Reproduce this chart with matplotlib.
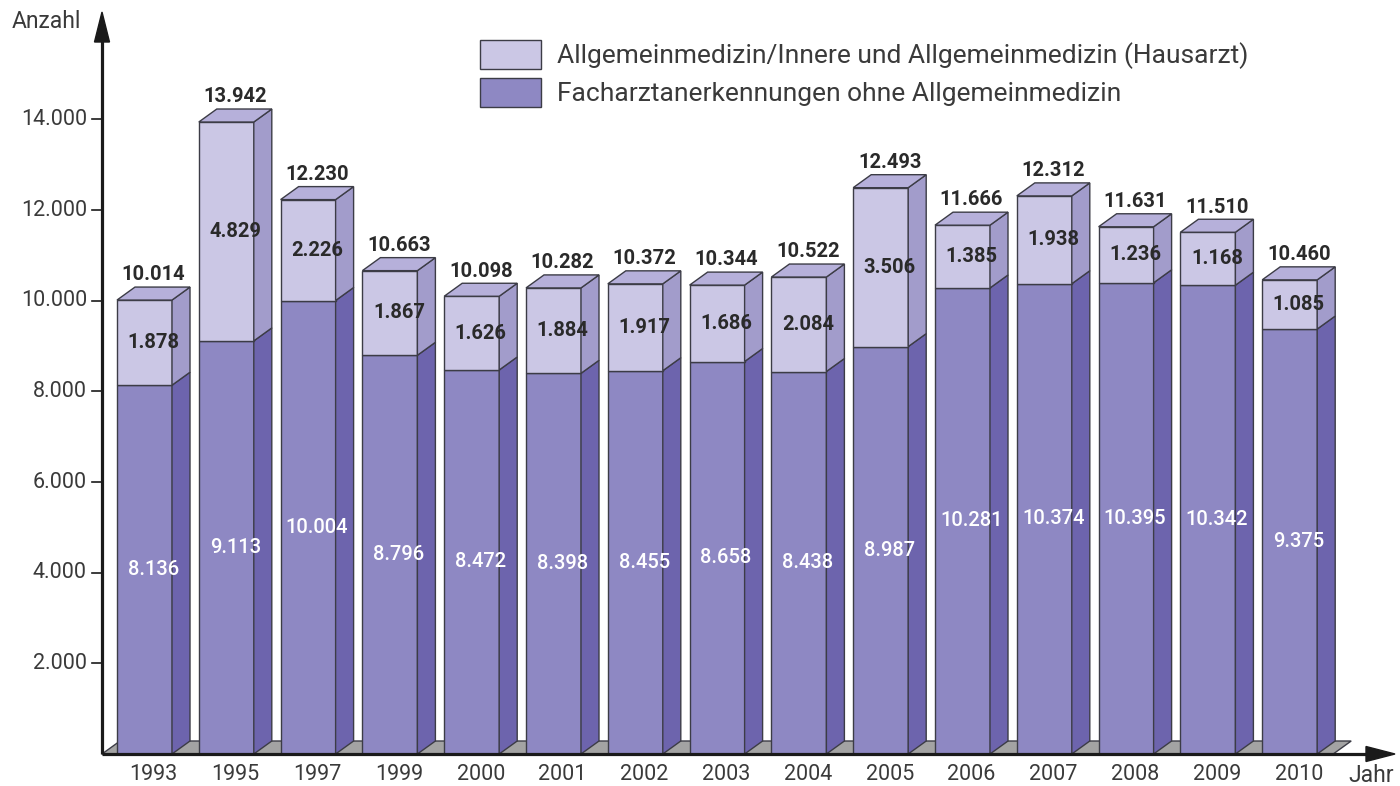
import matplotlib
matplotlib.use("Agg")
import matplotlib.pyplot as plt
from matplotlib.patches import Polygon, Rectangle

# ---------------- data ----------------
years = ["1993", "1995", "1997", "1999", "2000", "2001", "2002", "2003",
         "2004", "2005", "2006", "2007", "2008", "2009", "2010"]
facharzt = [8136, 9113, 10004, 8796, 8472, 8398, 8455, 8658,
            8438, 8987, 10281, 10374, 10395, 10342, 9375]
allgemein = [1878, 4829, 2226, 1867, 1626, 1884, 1917, 1686,
             2084, 3506, 1385, 1938, 1236, 1168, 1085]
totals = [10014, 13942, 12230, 10663, 10098, 10282, 10372, 10344,
          10522, 12493, 11666, 12312, 11631, 11510, 10460]
yticks = [2000, 4000, 6000, 8000, 10000, 12000, 14000]
legend_labels = ["Allgemeinmedizin/Innere und Allgemeinmedizin (Hausarzt)",
                 "Facharztanerkennungen ohne Allgemeinmedizin"]

def fmt(v):
    return f"{v:,}".replace(",", ".")

# ---------------- styling ----------------
FONT = ["Roboto", "DejaVu Sans"]
plt.rcParams["font.family"] = FONT
C_LOW_FRONT = "#8e88c3"
C_LOW_SIDE = "#6d64ad"
C_UP_FRONT = "#cbc7e5"
C_UP_SIDE = "#a29ccb"
C_TOP = "#b6b0da"
C_EDGE = "#3c3c46"
C_FLOOR = "#a3a3a3"
C_TEXT = "#3a3a3a"
LIGHT = "normal"

W, H = 1400, 786
fig = plt.figure(figsize=(W / 100, H / 100), dpi=100)
ax = fig.add_axes([0, 0, 1, 1])

# pixel geometry -> data limits
PX_IDX = 81.8      # px per category step
X0 = 144.5         # px of first bar center
Y0 = 754           # px of value 0 (from top)
PX_VAL = 0.04533   # px per unit
ax.set_xlim(-X0 / PX_IDX, (W - X0) / PX_IDX)
ax.set_ylim((Y0 - H) / PX_VAL, Y0 / PX_VAL)
ax.axis("off")

bw = 55 / PX_IDX
dx = 18 / PX_IDX
dy = 13 / PX_VAL
lw = 1.0
axis_x = (102 - X0) / PX_IDX
n = len(years)

# floor
floor_right = n - 1 + bw / 2 + 16 / PX_IDX
ax.add_patch(Polygon([(axis_x, 0), (floor_right, 0), (floor_right + dx, dy),
                      (axis_x + dx, dy)], closed=True, facecolor=C_FLOOR,
                     edgecolor=C_EDGE, lw=lw, zorder=1))


def box(x, y0, y1, front, side, top=None):
    l, r = x - bw / 2, x + bw / 2
    ax.add_patch(Polygon([(l, y0), (r, y0), (r, y1), (l, y1)], closed=True,
                         facecolor=front, edgecolor=C_EDGE, lw=lw, zorder=3))
    ax.add_patch(Polygon([(r, y0), (r + dx, y0 + dy), (r + dx, y1 + dy), (r, y1)],
                         closed=True, facecolor=side, edgecolor=C_EDGE, lw=lw, zorder=3))
    if top is not None:
        ax.add_patch(Polygon([(l, y1), (r, y1), (r + dx, y1 + dy), (l + dx, y1 + dy)],
                             closed=True, facecolor=top, edgecolor=C_EDGE, lw=lw, zorder=3))


for i in range(n):
    lo = facharzt[i]
    tot = lo + allgemein[i]
    box(i, 0, lo, C_LOW_FRONT, C_LOW_SIDE)
    box(i, lo, tot, C_UP_FRONT, C_UP_SIDE, C_TOP)
    cx = i + dx / 2
    ax.text(cx, lo / 2, fmt(facharzt[i]), ha="center", va="center",
            color="white", fontsize=14.5, fontweight="medium", zorder=5)
    ax.text(cx, lo + allgemein[i] / 2, fmt(allgemein[i]), ha="center", va="center",
            color="#2a2a2a", fontsize=14.5, fontweight="bold", zorder=5)
    ax.text(cx, tot + dy + 60, fmt(totals[i]), ha="center", va="bottom",
            color="#2a2a2a", fontsize=14.5, fontweight="bold", zorder=5)
    ax.text(cx, -21 / PX_VAL, years[i], ha="center", va="center",
            color=C_TEXT, fontsize=15.5, fontweight=LIGHT, zorder=5)

# axes with arrows
y_top = (Y0 - 12) / PX_VAL
x_right = (1395 - X0) / PX_IDX
ax.plot([axis_x, axis_x], [0, (Y0 - 40) / PX_VAL], color="#1a1a1a", lw=2.3,
        solid_capstyle="butt", zorder=6)
ax.plot([axis_x, (1368 - X0) / PX_IDX], [0, 0], color="#1a1a1a", lw=2.3,
        solid_capstyle="butt", zorder=6)
hw = 7.5
ax.add_patch(Polygon([(axis_x - hw / PX_IDX, (Y0 - 42) / PX_VAL),
                      (axis_x + hw / PX_IDX, (Y0 - 42) / PX_VAL),
                      (axis_x, y_top)], closed=True, color="#1a1a1a", zorder=6))
ax.add_patch(Polygon([((1366 - X0) / PX_IDX, hw / PX_VAL),
                      ((1366 - X0) / PX_IDX, -hw / PX_VAL),
                      (x_right, 0)], closed=True, color="#1a1a1a", zorder=6))

# y ticks
for t in yticks:
    ax.plot([(92 - X0) / PX_IDX, axis_x], [t, t], color="#1a1a1a", lw=1.2, zorder=6)
    ax.text((87 - X0) / PX_IDX, t, fmt(t), ha="right", va="center",
            color=C_TEXT, fontsize=15.5, fontweight=LIGHT)

ax.text(12 / W, 1 - 22 / H, "Anzahl", transform=ax.transAxes, ha="left", va="center",
        color=C_TEXT, fontsize=16.5, fontweight=LIGHT)
ax.text(1348 / W, 1 - 776 / H, "Jahr", transform=ax.transAxes, ha="left", va="center",
        color=C_TEXT, fontsize=16.5, fontweight=LIGHT)

# legend
for k, (lab, col) in enumerate(zip(legend_labels, [C_UP_FRONT, C_LOW_FRONT])):
    ytop = 40 + k * 38
    ax.add_patch(Rectangle((480 / W, 1 - (ytop + 29) / H), 61 / W, 29 / H,
                           transform=ax.transAxes, facecolor=col,
                           edgecolor=C_EDGE, lw=1.0))
    ax.text(557 / W, 1 - (ytop + 15.5) / H, lab, transform=ax.transAxes,
            ha="left", va="center", color=C_TEXT, fontsize=19, fontweight=LIGHT)

fig.savefig("out.png", dpi=100)
